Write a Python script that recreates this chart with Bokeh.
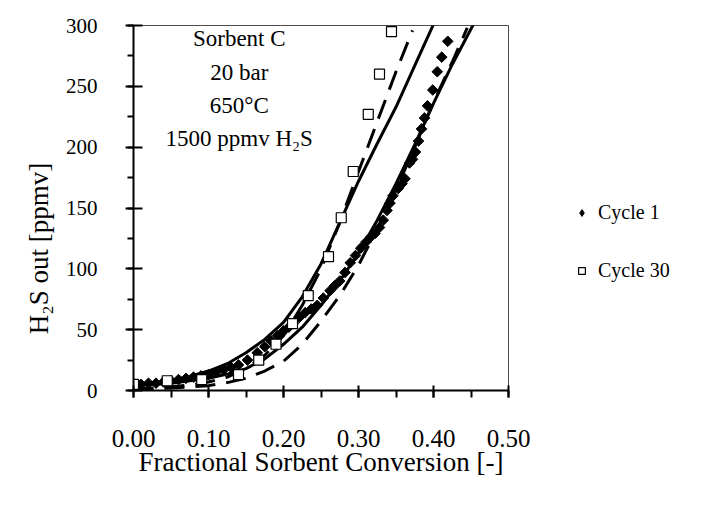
from bokeh.plotting import figure
from bokeh.layouts import row
from bokeh.models import Range1d, SingleIntervalTicker, NumeralTickFormatter, Label, Legend, LegendItem
from bokeh.embed import file_html
from bokeh.resources import INLINE
import math

FONT = "Liberation Serif"

# ---- data ----
cycle1_x = [0.00, 0.01, 0.02, 0.03, 0.04, 0.05, 0.06, 0.07, 0.08, 0.09, 0.10, 0.11, 0.12, 0.13, 0.14,
            0.152, 0.165, 0.175, 0.183, 0.192, 0.200, 0.207, 0.213, 0.221, 0.229, 0.237, 0.245, 0.253,
            0.262, 0.268, 0.275, 0.282, 0.289, 0.296, 0.303, 0.310, 0.316, 0.322, 0.328, 0.333, 0.338,
            0.342, 0.346, 0.353, 0.358, 0.362, 0.368, 0.372, 0.376, 0.380, 0.384, 0.388, 0.392, 0.399,
            0.405, 0.411, 0.419]
cycle1_y = [5, 5, 6, 6, 7, 8, 9, 10, 11, 12, 13, 15, 17, 19, 21,
            25, 31, 36, 41, 45, 49, 52, 55, 60, 64, 67, 70, 76,
            82, 86, 90, 97, 105, 111, 117, 122, 126, 129, 134, 140, 148,
            154, 160, 166, 170, 174, 187, 190, 196, 205, 215, 224, 234, 247,
            262, 274, 287]

cycle30_x = [0.000, 0.045, 0.091, 0.140, 0.167, 0.190, 0.212, 0.233, 0.260, 0.277, 0.293, 0.313, 0.328, 0.344]
cycle30_y = [5, 8, 9, 13, 25, 38, 55, 78, 110, 142, 180, 227, 260, 295]

# model curves
c30_solid_x = [0.0, 0.025, 0.05, 0.075, 0.1, 0.125, 0.15, 0.175, 0.2, 0.225, 0.25, 0.275, 0.3, 0.325, 0.35, 0.375, 0.4]
c30_solid_y = [5, 6.5, 8.5, 11.5, 16, 22, 31, 42, 56, 77, 104, 138, 172, 203, 233, 267, 301]
c30_dash_x = [0.0, 0.025, 0.05, 0.075, 0.1, 0.125, 0.15, 0.175, 0.2, 0.225, 0.25, 0.275, 0.3, 0.325, 0.35, 0.372]
c30_dash_y = [1, 2, 3, 4.5, 7, 11, 18, 29, 45, 70, 100, 138, 180, 221, 262, 296]
c1_solid_x = [0.0, 0.025, 0.05, 0.075, 0.1, 0.125, 0.15, 0.175, 0.2, 0.225, 0.25, 0.275, 0.3, 0.325, 0.35, 0.375, 0.4, 0.425, 0.455]
c1_solid_y = [4, 5, 6, 8, 10, 13.5, 18, 26, 38, 52, 70, 90, 113, 140, 170, 202, 236, 268, 303]
c1_dash_x = [0.0, 0.025, 0.05, 0.075, 0.1, 0.125, 0.15, 0.175, 0.2, 0.225, 0.25, 0.275, 0.3, 0.325, 0.35, 0.375, 0.4, 0.425, 0.445]
c1_dash_y = [1, 1.5, 2, 3, 4, 6.5, 10, 16, 24, 38, 57, 78, 103, 133, 165, 200, 237, 270, 298]

notes = ["Sorbent C", "20 bar", "650°C", "1500 ppmv H₂S"]
notes_y = [289, 261, 234, 207]
notes_x = 0.141

legend_labels = ["Cycle 1", "Cycle 30"]

p = figure(width=540, height=499, output_backend="svg", toolbar_location=None,
           x_range=Range1d(0, 0.5), y_range=Range1d(0, 300),
           min_border_left=133, min_border_right=32, min_border_top=25, min_border_bottom=109)
p.grid.visible = False
p.outline_line_color = "black"
p.outline_line_width = 1
p.outline_line_alpha = 0.7

# lines
lw = 3
p.line(c30_solid_x, c30_solid_y, line_color="black", line_width=lw)
p.line(c1_solid_x, c1_solid_y, line_color="black", line_width=lw)
p.line(c30_dash_x, c30_dash_y, line_color="black", line_width=lw, line_dash="20 11")
p.line(c1_dash_x, c1_dash_y, line_color="black", line_width=lw, line_dash="20 11")

diamond_style = dict(marker="square", angle=math.pi / 4, fill_color="black", line_color="black")
square_style = dict(marker="square", fill_color="white", line_color="black", line_width=1.2)
p.scatter(cycle1_x, cycle1_y, size=7.5, **diamond_style)
p.scatter(cycle30_x, cycle30_y, size=10, **square_style)

# axes
p.xaxis.ticker = SingleIntervalTicker(interval=0.1, num_minor_ticks=2)
p.yaxis.ticker = SingleIntervalTicker(interval=50, num_minor_ticks=2)
p.xaxis.formatter = NumeralTickFormatter(format="0.00")
for ax in (p.xaxis, p.yaxis):
    ax.axis_line_width = 2
    ax.major_tick_line_width = 2
    ax.minor_tick_line_width = 2
    ax.major_label_text_font = FONT
    ax.axis_label_text_font = FONT
    ax.axis_label_text_font_style = "normal"
    ax.major_label_text_color = "black"
    ax.axis_label_text_color = "black"

p.xaxis.major_tick_in = 5
p.xaxis.major_tick_out = 7
p.xaxis.minor_tick_in = 0
p.xaxis.minor_tick_out = 7
p.yaxis.major_tick_in = 9
p.yaxis.major_tick_out = 8
p.yaxis.minor_tick_in = 0
p.yaxis.minor_tick_out = 6

p.xaxis.major_label_text_font_size = "25px"
p.yaxis.major_label_text_font_size = "21px"
p.xaxis.major_label_standoff = 32
p.yaxis.major_label_standoff = 28
p.xaxis.axis_label = "Fractional Sorbent Conversion [-]"
p.yaxis.axis_label = "H₂S out [ppmv]\u2003\u2003\u2003"
p.xaxis.axis_label_text_font_size = "27px"
p.yaxis.axis_label_text_font_size = "27px"
p.xaxis.axis_label_standoff = -3
p.yaxis.axis_label_standoff = 9

for t, yy in zip(notes, notes_y):
    p.add_layout(Label(x=notes_x, y=yy, text=t, text_font=FONT, text_font_size="23px",
                       text_align="center", text_baseline="middle", text_color="black"))

# legend panel (separate figure to the right; proxy renderers sit outside its view)
pl = figure(width=160, height=499, output_backend="svg", toolbar_location=None,
            x_range=Range1d(1000, 1001), y_range=Range1d(1000, 1001), min_border=0)
pl.axis.visible = False
pl.grid.visible = False
pl.outline_line_color = None
lr1 = pl.scatter(cycle1_x[:1], cycle1_y[:1], size=10, marker="diamond",
                 fill_color="black", line_color="black")
lr30 = pl.scatter(cycle30_x[:1], cycle30_y[:1], size=10, **square_style)
legend = Legend(items=[LegendItem(label=legend_labels[0], renderers=[lr1]),
                       LegendItem(label=legend_labels[1], renderers=[lr30])],
                location=(33, 108), padding=0, margin=0, spacing=35,
                glyph_width=17, glyph_height=17, label_standoff=8,
                label_text_font=FONT, label_text_font_size="20px", label_text_color="black",
                border_line_color=None, background_fill_alpha=0)
pl.add_layout(legend, "center")

layout = row(p, pl)
open("out.html", "w").write(file_html(layout, INLINE))
